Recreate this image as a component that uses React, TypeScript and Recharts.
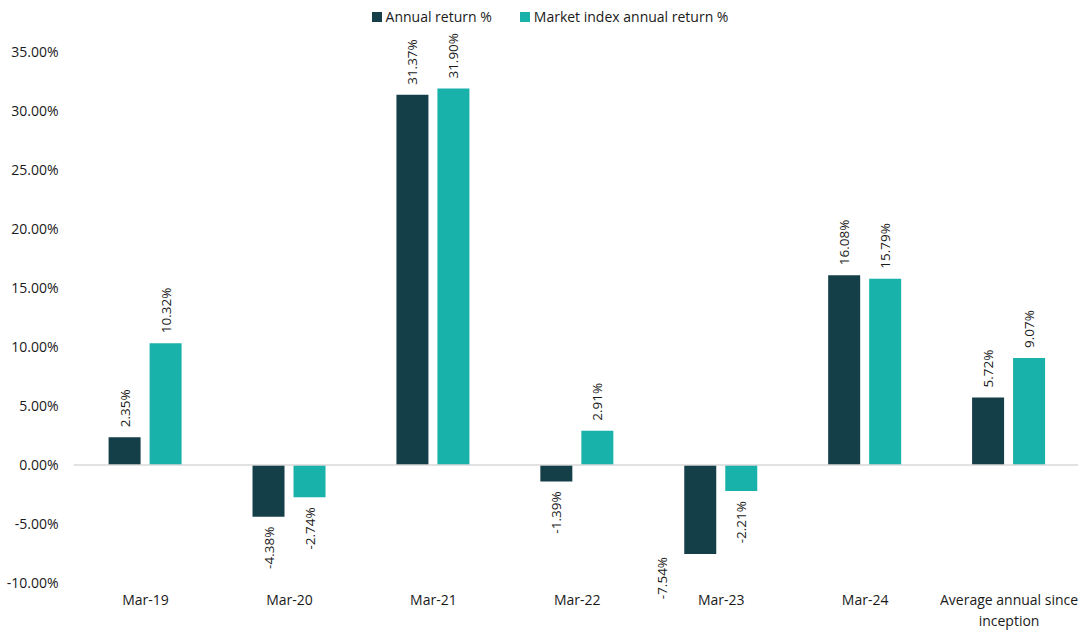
import React from 'react'
import { BarChart, Bar, XAxis, YAxis, ReferenceLine, LabelList, Text } from 'recharts'

const categories = ['Mar-19', 'Mar-20', 'Mar-21', 'Mar-22', 'Mar-23', 'Mar-24', 'Average annual since inception']
const annualReturn = [2.35, -4.38, 31.37, -1.39, -7.54, 16.08, 5.72]
const marketReturn = [10.32, -2.74, 31.9, 2.91, -2.21, 15.79, 9.07]
const yTicks = [-10, -5, 0, 5, 10, 15, 20, 25, 30, 35]
const seriesNames = ['Annual return %', 'Market index annual return %']

const DARK = '#143f48'
const TEAL = '#19b2aa'
const TEXT = '#1a1a1a'
const FONT = '"Open Sans", sans-serif'

const W = 1081
const H = 633
const TOP = 52
const X_AXIS_H = 50
const PLOT_BOTTOM = H - X_AXIS_H

const data = categories.map((c, i) => ({ cat: c, annual: annualReturn[i], market: marketReturn[i] }))

const fmt = (v: number) => `${v.toFixed(2)}%`

// eslint-disable-next-line @typescript-eslint/no-explicit-any
function BarLabel(props: any) {
  const { x, y, width, height, value } = props
  const v = Number(value)
  const top = Math.min(y, y + height)
  const bottom = Math.max(y, y + height)
  let cx = x + width / 2
  let ty: number
  let anchor: 'start' | 'end'
  if (v >= 0) {
    ty = top - 10
    anchor = 'start'
  } else {
    ty = bottom + 10
    anchor = 'end'
    // label would run past the plot bottom: put it beside the bar
    if (ty + 45 > PLOT_BOTTOM) {
      cx = x - 22
      ty = bottom + 3
    }
  }
  return (
    <text
      x={cx}
      y={ty}
      transform={`rotate(-90, ${cx}, ${ty})`}
      textAnchor={anchor}
      dominantBaseline="central"
      fontSize={13.5}
      fontFamily={FONT}
      fill={TEXT}
    >
      {fmt(v)}
    </text>
  )
}

// eslint-disable-next-line @typescript-eslint/no-explicit-any
function CatTick(props: any) {
  const { x, y, payload } = props
  return (
    <Text
      x={x}
      y={y}
      width={155}
      textAnchor="middle"
      verticalAnchor="start"
      fontSize={14}
      fontFamily={FONT}
      fill={TEXT}
      lineHeight={21}
    >
      {payload.value}
    </Text>
  )
}

export default function App() {
  return (
    <div style={{ position: 'absolute', left: 0, top: 0, width: 1078, height: H, overflow: 'hidden', background: '#fff' }}>
      <div
        style={{
          position: 'absolute', top: 8, left: 0, width: 1100, display: 'flex', justifyContent: 'center',
          gap: 28, fontFamily: FONT, fontSize: 14, color: TEXT, lineHeight: '18px',
        }}
      >
        {seriesNames.map((n, i) => (
          <div key={n} style={{ display: 'flex', alignItems: 'center', gap: 4 }}>
            <span style={{ width: 10, height: 10, background: i === 0 ? DARK : TEAL, display: 'inline-block' }} />
            <span>{n}</span>
          </div>
        ))}
      </div>
      <BarChart
        width={W}
        height={H}
        data={data}
        margin={{ top: TOP, right: 0, left: 0, bottom: 0 }}
        barCategoryGap={35}
        barGap={9}
      >
        <XAxis
          dataKey="cat"
          height={X_AXIS_H}
          axisLine={false}
          tickLine={false}
          tickSize={0}
          tickMargin={12}
          interval={0}
          tick={<CatTick />}
        />
        <YAxis
          width={73.6}
          domain={[-10, 35]}
          ticks={yTicks}
          tickFormatter={fmt}
          axisLine={false}
          tickLine={false}
          tickSize={0}
          tickMargin={15}
          tick={{ fontSize: 14, fontFamily: FONT, fill: TEXT }}
        />
        <ReferenceLine y={0} stroke="#d9d9d9" strokeWidth={1.5} />
        <Bar dataKey="annual" name={seriesNames[0]} fill={DARK} isAnimationActive={false}>
          <LabelList dataKey="annual" content={<BarLabel />} />
        </Bar>
        <Bar dataKey="market" name={seriesNames[1]} fill={TEAL} isAnimationActive={false}>
          <LabelList dataKey="market" content={<BarLabel />} />
        </Bar>
      </BarChart>
    </div>
  )
}
